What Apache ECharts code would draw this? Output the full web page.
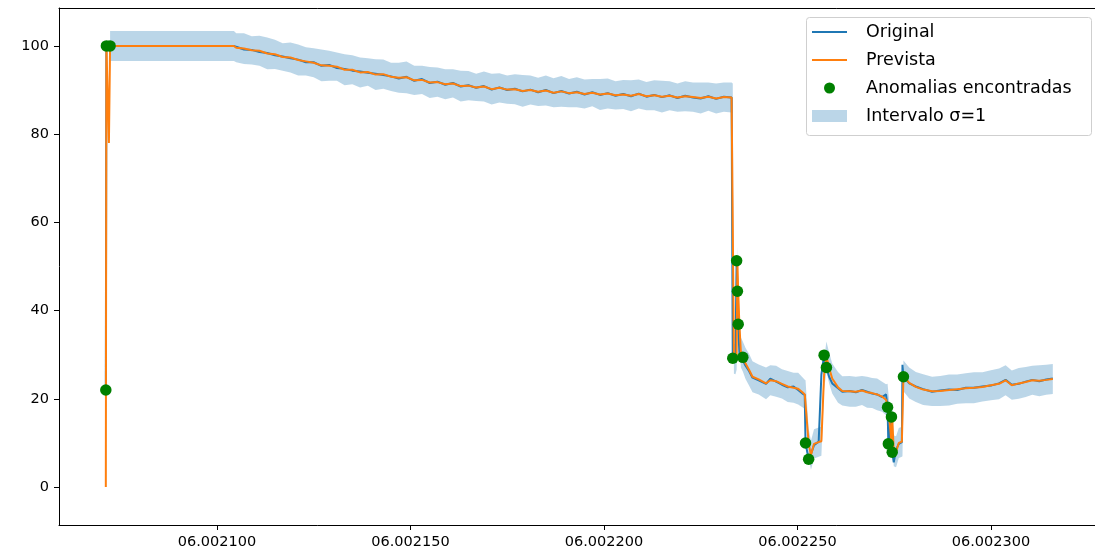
<!DOCTYPE html>
<html><head><meta charset="utf-8">
<script src="https://cdn.jsdelivr.net/npm/echarts@6/dist/echarts.min.js"></script>
<style>html,body{margin:0;padding:0;background:#fff}#c{width:1095px;height:559px}</style>
</head><body><div id="c"></div>
<script>
// ---- data ----
const t = [
  2071.3, 2071.45, 2071.8, 2072.1, 2072.4, 2080, 2090, 2100, 2104.4,
  2105,2107,2109,2111,2113,2115,2117,2119,2121,2123,
  2125,2127,2129,2131,2133,2135,2137,2139,2141,2143,
  2145,2147,2149,2151,2153,2155,2157,2159,2161,2163,
  2165,2167,2169,2171,2173,2175,2177,2179,2181,2183,
  2185,2187,2189,2191,2193,2195,2197,2199,2201,2203,
  2205,2207,2209,2211,2213,2215,2217,2219,2221,2223,
  2225,2227,2229,2231,2233,
  2233.3,2233.6,2234.0,2234.3,2234.5,2234.7,2235.0,2235.4,2235.9,2236.6,
  2237.5,2238.4,2240.0,2241.9,2243.0,2244.5,2246.0,2247.5,2249.0,2250.2,
  2251.3,2251.9,2252.1,2252.9,2253.5,2254.3,2255.5,2256.2,2256.9,2257.5,
  2258.2,2259.0,2260.5,2261.6,2263.5,2265.1,2266.7,2268.0,2269.3,2270.6,
  2271.9,2272.9,2273.3,2273.5,2274.3,2274.5,2274.9,2275.5,2276.2,2277.0,
  2277.15,2277.4,2278.9,2280.6,2282.5,2284.8,2286.9,2289.2,2291.3,2293.5,
  2295.6,2297.8,2300.0,2302.1,2303.8,2305.4,2307.2,2309.0,2310.7,2312.5,
  2314.3,2316.0
];
const original = [
  22,100,100,100,100,100,100,100,100,
  99.8,99.2,99.1,98.6,98.4,97.9,97.6,97.2,96.9,96.3,
  96.3,95.5,95.7,95.0,94.8,94.4,94.2,93.9,93.7,93.4,
  93.1,92.6,93.0,92.1,92.5,91.6,91.9,91.2,91.6,90.8,
  91.1,90.5,90.9,90.1,90.6,90.0,90.3,89.7,90.1,89.5,
  90.0,89.3,89.8,89.2,89.6,89.0,89.5,88.9,89.3,88.7,
  89.1,88.6,89.2,88.5,88.9,88.4,88.8,88.2,88.7,88.3,
  88.1,88.6,88.0,88.5,88.3,
  29.2,29.0,30.0,51.3,44.4,36.9,30.5,29.6,29.4,27.5,
  26.3,24.8,24.2,23.4,24.6,23.9,23.2,22.6,22.8,22.0,
  21.2,20.9,10.0,6.3,7.5,9.5,10.3,25.5,29.9,27.1,
  25.0,23.5,22.4,21.6,21.8,21.5,22.0,21.6,21.2,21.0,
  20.4,21.0,18.1,9.8,15.9,7.9,5.6,8.5,9.8,10.2,
  27.7,25.0,23.5,22.8,22.2,21.6,21.9,22.1,22.0,22.5,
  22.5,22.8,23.0,23.5,24.3,23.2,23.4,23.9,24.3,24.0,
  24.4,24.6
];
const prevista = [
  0,100,100,78,100,100,100,100,100,
  99.6,99.4,99.0,98.9,98.3,98.1,97.5,97.4,96.8,96.5,
  96.2,95.6,95.5,95.3,94.6,94.6,94.0,94.1,93.5,93.6,
  93.0,92.8,92.9,92.2,92.3,91.7,91.8,91.3,91.5,90.9,
  91.0,90.6,90.8,90.2,90.5,90.1,90.2,89.8,90.0,89.6,
  89.9,89.4,89.7,89.3,89.5,89.1,89.4,89.0,89.2,88.8,
  89.0,88.7,89.1,88.6,88.8,88.5,88.7,88.3,88.6,88.4,
  88.2,88.5,88.1,88.4,88.3,
  88.1,29.1,29.0,30.0,51.0,44.3,37.0,30.5,29.6,28.0,
  26.6,25.0,24.4,23.5,24.2,24.0,23.4,22.8,22.5,22.3,
  21.5,21.0,20.9,10.0,7.2,9.8,10.2,10.4,25.5,29.6,
  27.0,24.6,22.6,21.8,21.7,21.6,21.9,21.5,21.3,21.0,
  20.5,19.8,19.9,18.0,10.2,15.6,8.2,8.0,10.0,10.3,
  10.4,25.2,23.6,22.7,22.1,21.7,21.8,22.0,22.2,22.4,
  22.5,22.7,23.1,23.4,24.2,23.1,23.5,23.8,24.2,24.1,
  24.3,24.5
];
const sigma = [
  null,null,null,null,3.4,3.4,3.4,3.4,3.4,
  3.3,3.5,3.2,3.4,3.6,3.3,3.1,3.4,3.5,3.2,
  3.3,3.6,3.4,3.2,3.5,3.3,3.4,3.1,3.5,3.3,
  3.2,3.4,3.6,3.3,3.2,3.5,3.3,3.4,3.2,3.5,
  3.3,3.1,3.4,3.5,3.3,3.2,3.4,3.6,3.3,3.2,
  3.4,3.3,3.5,3.2,3.4,3.3,3.1,3.5,3.4,3.2,
  3.3,3.5,3.3,3.2,3.4,3.6,3.3,3.2,3.4,3.3,
  3.5,3.2,3.4,3.3,3.4,
  3.4,3.4,3.4,3.4,3.4,3.4,3.4,3.4,3.4,3.5,
  3.6,3.5,3.4,3.6,3.4,3.5,3.3,3.5,3.4,3.6,
  3.4,3.3,3.3,3.3,3.3,3.3,3.3,3.3,3.4,3.4,
  3.5,3.4,3.5,3.3,3.5,3.4,3.3,3.5,3.4,3.6,
  3.4,3.5,3.5,3.5,3.5,3.5,3.5,3.5,3.4,3.4,
  3.4,3.5,3.5,3.4,3.5,3.3,3.4,3.5,3.3,3.4,
  3.5,3.3,3.4,3.5,3.4,3.3,3.5,3.4,3.3,3.5,
  3.4,3.4
];
const anomT = [2071.3,2071.45,2072.4,2233.3,2234.3,2234.5,2234.7,2235.9,2252.1,2252.9,2256.9,2257.5,2273.3,2273.5,2274.3,2274.5,2277.4];
const anomV = [22,100,100,29.2,51.3,44.4,36.9,29.4,10.0,6.3,29.9,27.1,18.1,9.8,15.9,7.9,25.0];
const xTicks = [2100,2150,2200,2250,2300];
const yTicks = [0,20,40,60,80,100];
const xTickPrefix = '06.00';
const legendLabels = ['Original','Prevista','Anomalias encontradas','Intervalo σ=1'];

// ---- build chart ----
const C_ORIG = '#1f77b4', C_PREV = '#ff7f0e', C_ANOM = '#008000', C_BAND = 'rgba(31,119,180,0.3)';
const FONT = 'DejaVu Sans';
const X_MIN = 2059.2, X_MAX = 2326.9, Y_MIN = -8.6, Y_MAX = 108.6;
const origData = t.map((x,i)=>[x, original[i]]);
const prevData = t.map((x,i)=>[x, prevista[i]]);
const anomData = anomT.map((x,i)=>[x, anomV[i]]);
const bandT = [], bandLow = [], bandHigh = [];
t.forEach((x,i)=>{ if (sigma[i] != null) { bandT.push(x); bandLow.push(prevista[i]-sigma[i]); bandHigh.push(prevista[i]+sigma[i]); } });

const chart = echarts.init(document.getElementById('c'), null, {renderer:'canvas'});
const legendRows = [32, 60, 88, 116];
const graphics = [
  {type:'rect', z:100, shape:{x:806.5, y:17.5, width:285, height:118, r:3}, style:{fill:'rgba(255,255,255,0.8)', stroke:'#cfcfcf', lineWidth:1}},
  {type:'line', z:101, shape:{x1:812, y1:legendRows[0], x2:847, y2:legendRows[0]}, style:{stroke:C_ORIG, lineWidth:2}},
  {type:'line', z:101, shape:{x1:812, y1:legendRows[1], x2:847, y2:legendRows[1]}, style:{stroke:C_PREV, lineWidth:2}},
  {type:'circle', z:101, shape:{cx:829.5, cy:legendRows[2], r:5.5}, style:{fill:C_ANOM}},
  {type:'rect', z:101, shape:{x:812, y:legendRows[3]-6, width:35, height:12}, style:{fill:C_BAND}}
];
legendLabels.forEach((lab,i)=>{
  graphics.push({type:'text', z:101, x:866, y:legendRows[i], style:{text:lab, fill:'#000', font:'17.5px "DejaVu Sans"', verticalAlign:'middle', align:'left'}});
});

chart.setOption({
  animation:false,
  backgroundColor:'#fff',
  textStyle:{fontFamily:FONT},
  grid:{left:59, top:8, right:0, bottom:34, show:false},
  xAxis:[
    {type:'value', min:X_MIN, max:X_MAX, position:'bottom',
      axisLine:{show:true, onZero:false, lineStyle:{color:'#000', width:1}},
      axisTick:{show:true, length:5, lineStyle:{color:'#000'}, customValues:xTicks},
      axisLabel:{show:true, margin:10, color:'#000', fontSize:14.5, fontFamily:FONT, customValues:xTicks, formatter:v=>xTickPrefix+v},
      splitLine:{show:false}},
    {type:'value', min:X_MIN, max:X_MAX, position:'top',
      axisLine:{show:true, onZero:false, lineStyle:{color:'#000', width:1}},
      axisTick:{show:false}, axisLabel:{show:false}, splitLine:{show:false}}
  ],
  yAxis:{type:'value', min:Y_MIN, max:Y_MAX,
    axisLine:{show:true, onZero:false, lineStyle:{color:'#000', width:1}},
    axisTick:{show:true, length:5, lineStyle:{color:'#000'}, customValues:yTicks},
    axisLabel:{show:true, margin:10, color:'#000', fontSize:14.5, fontFamily:FONT, customValues:yTicks},
    splitLine:{show:false}},
  series:[
    {type:'custom', name:legendLabels[3], silent:true, z:1, data:[[bandT[0], bandHigh[0]]],
      renderItem:function(params, api){
        const pts = [];
        for (let i=0;i<bandT.length;i++) pts.push(api.coord([bandT[i], bandHigh[i]]));
        for (let i=bandT.length-1;i>=0;i--) pts.push(api.coord([bandT[i], bandLow[i]]));
        return {type:'polygon', shape:{points:pts}, style:{fill:C_BAND}};
      }},
    {type:'line', name:legendLabels[0], data:origData, showSymbol:false, z:2, lineStyle:{color:C_ORIG, width:2}, itemStyle:{color:C_ORIG}},
    {type:'line', name:legendLabels[1], data:prevData, showSymbol:false, z:3, lineStyle:{color:C_PREV, width:2}, itemStyle:{color:C_PREV}},
    {type:'scatter', name:legendLabels[2], data:anomData, symbolSize:11.5, z:4, itemStyle:{color:C_ANOM, opacity:1}}
  ],
  graphic:graphics
});
</script>
</body></html>
